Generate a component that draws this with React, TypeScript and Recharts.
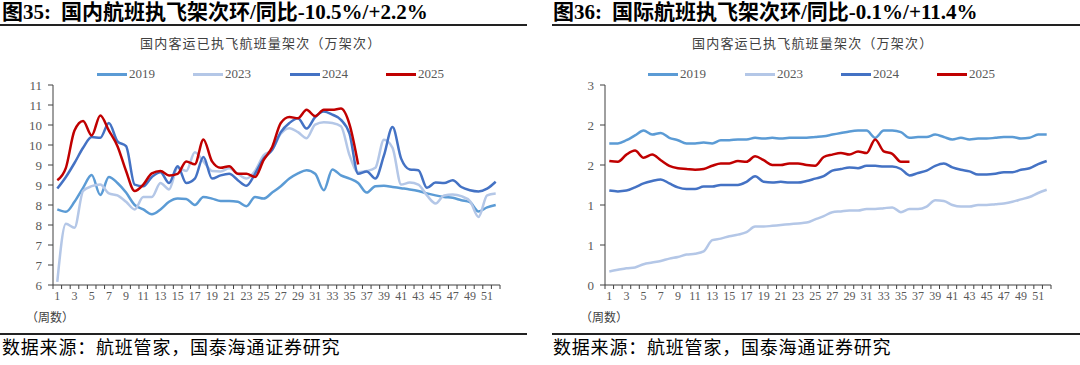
import React from "react";
import { LineChart, Line, XAxis, YAxis, Legend } from "recharts";

const WEEKS = [
  1, 2, 3, 4, 5, 6, 7, 8, 9, 10, 11, 12, 13, 14, 15, 16, 17, 18, 19, 20, 21, 22, 23, 24, 25, 26,
  27, 28, 29, 30, 31, 32, 33, 34, 35, 36, 37, 38, 39, 40, 41, 42, 43, 44, 45, 46, 47, 48, 49, 50, 51, 52,
];
const YEARS = ["2019", "2023", "2024", "2025"];

// 国内 (万架次)
const DOM_2019 = [
  7.89, 7.83, 8.08, 8.43, 8.75, 8.25, 8.7, 8.55, 8.31, 8.0, 7.89, 7.77, 7.89, 8.08, 8.16, 8.15, 8.0, 8.2,
  8.16, 8.1, 8.1, 8.08, 7.97, 8.2, 8.16, 8.31, 8.47, 8.66, 8.79, 8.87, 8.78, 8.37, 8.89, 8.74, 8.66, 8.55,
  8.31, 8.47, 8.48, 8.45, 8.42, 8.39, 8.35, 8.29, 8.24, 8.2, 8.18, 8.12, 8.07, 7.84, 7.94, 8.0,
];
const DOM_2023 = [
  6.08, 7.53, 7.43, 8.35, 8.47, 8.51, 8.29, 8.24, 8.08, 7.89, 8.2, 8.2, 8.55, 8.39, 8.93, 8.85, 9.32, 9.09,
  8.85, 8.84, 8.92, 8.78, 8.66, 8.85, 9.24, 9.38, 9.78, 9.92, 9.82, 9.67, 10.01, 10.07, 10.05, 9.97, 9.24, 8.82,
  8.85, 8.93, 9.63, 9.43, 8.51, 8.56, 8.51, 8.24, 8.04, 8.24, 8.26, 8.22, 8.1, 7.7, 8.24, 8.29,
];
const DOM_2024 = [
  8.41, 8.7, 9.05, 9.43, 9.7, 9.68, 10.05, 9.59, 9.47, 8.51, 8.47, 8.7, 8.82, 8.55, 8.97, 8.55, 8.66, 9.2,
  8.66, 8.74, 8.78, 8.62, 8.48, 8.78, 9.16, 9.38, 9.82, 10.05, 10.17, 9.91, 10.2, 10.34, 10.26, 10.13, 9.78, 8.78,
  8.84, 8.66, 9.24, 9.95, 9.16, 8.89, 8.87, 8.43, 8.56, 8.55, 8.62, 8.45, 8.37, 8.34, 8.41, 8.58,
];
const DOM_2025 = [
  8.62, 8.93, 9.86, 10.1, 9.74, 10.24, 9.86, 9.47, 8.85, 8.35, 8.51, 8.79, 8.85, 8.74, 8.78, 9.09, 9.02, 9.64,
  9.09, 8.93, 8.97, 8.78, 8.78, 8.7, 9.12, 9.45, 10.05, 10.2, 10.17, 10.38, 10.22, 10.38, 10.38, 10.41, 10.01, 9.01,
];

// 国际 (万架次)
const INT_2019 = [
  1.77, 1.77, 1.81, 1.87, 1.93, 1.88, 1.9, 1.84, 1.81, 1.77, 1.77, 1.78, 1.77, 1.81, 1.81, 1.82, 1.82, 1.84,
  1.83, 1.84, 1.83, 1.84, 1.84, 1.84, 1.85, 1.86, 1.88, 1.9, 1.92, 1.93, 1.93, 1.84, 1.93, 1.93, 1.91, 1.84,
  1.85, 1.85, 1.88, 1.85, 1.82, 1.84, 1.82, 1.83, 1.83, 1.84, 1.85, 1.85, 1.83, 1.84, 1.88, 1.88,
];
const INT_2023 = [
  0.17, 0.19, 0.21, 0.22, 0.26, 0.28, 0.3, 0.33, 0.35, 0.38, 0.39, 0.42, 0.56, 0.58, 0.61, 0.63, 0.66, 0.73,
  0.73, 0.74, 0.75, 0.76, 0.77, 0.78, 0.82, 0.86, 0.91, 0.92, 0.93, 0.93, 0.95, 0.95, 0.96, 0.97, 0.91, 0.95,
  0.95, 0.98, 1.06, 1.05, 1.0, 0.98, 0.98, 1.0, 1.0, 1.01, 1.02, 1.04, 1.07, 1.1, 1.15, 1.19,
];
const INT_2024 = [
  1.18, 1.17, 1.18, 1.22, 1.27, 1.3, 1.32, 1.27, 1.22, 1.2, 1.2, 1.23, 1.23, 1.25, 1.25, 1.25, 1.29, 1.36,
  1.29, 1.28, 1.29, 1.28, 1.28, 1.3, 1.33, 1.36, 1.43, 1.45, 1.47, 1.46, 1.49, 1.49, 1.48, 1.48, 1.45, 1.37,
  1.4, 1.43, 1.49, 1.52, 1.47, 1.44, 1.42, 1.38, 1.38, 1.39, 1.41, 1.41, 1.44, 1.46, 1.51, 1.55,
];
const INT_2025 = [
  1.55, 1.54, 1.63, 1.68, 1.59, 1.63, 1.56, 1.49, 1.46, 1.45, 1.44, 1.45, 1.49, 1.52, 1.52, 1.55, 1.54, 1.61,
  1.56, 1.5, 1.5, 1.52, 1.52, 1.5, 1.49, 1.6, 1.63, 1.65, 1.63, 1.67, 1.65, 1.82, 1.67, 1.64, 1.54, 1.54,
];

const DOM_TICKS = [6, 6.5, 7, 7.5, 8, 8.5, 9, 9.5, 10, 10.5, 11];
const INT_TICKS = [0, 0.5, 1, 1.5, 2, 2.5];
const X_TICKS = [
  0.5, 1.5, 2.5, 3.5, 4.5, 5.5, 6.5, 7.5, 8.5, 9.5, 10.5, 11.5, 12.5, 13.5, 14.5, 15.5, 16.5, 17.5, 18.5,
  19.5, 20.5, 21.5, 22.5, 23.5, 24.5, 25.5, 26.5, 27.5, 28.5, 29.5, 30.5, 31.5, 32.5, 33.5, 34.5, 35.5, 36.5,
  37.5, 38.5, 39.5, 40.5, 41.5, 42.5, 43.5, 44.5, 45.5, 46.5, 47.5, 48.5, 49.5, 50.5, 51.5, 52.5,
];

const COLORS = ["#5B9BD5", "#B4C7E7", "#4472C4", "#C00000"];
const SERIF = "'Liberation Serif', 'Times New Roman', 'Noto Sans CJK SC', serif";
const CJK = "'Liberation Serif', 'Noto Sans CJK SC', serif";

const buildData = (series: (number | undefined)[][]) =>
  WEEKS.map((w, i) => ({
    week: w,
    y2019: series[0][i] ?? null,
    y2023: series[1][i] ?? null,
    y2024: series[2][i] ?? null,
    y2025: series[3][i] ?? null,
  }));

const PANEL_W = 540;
const CHART_H = 310;

interface PanelProps {
  left: number;
  figNo: string;
  title: string;
  titleX: number;
  lineX: number;
  lineW: number;
  subtitleX: number;
  data: any[];
  domain: [number, number];
  ticks: number[];
  plotLeft: number;
  plotRight: number;
  legendX: number[];
  weekLabelX: number;
}

function Panel(p: PanelProps) {
  const plotW = p.plotRight - p.plotLeft;
  const band = plotW / 52;

  // tick lines sit on week boundaries, labels on odd weeks
  const renderTick = (props: any) => {
    const { x, y, payload } = props;
    const wk = payload.value + 0.5;
    if (wk > 52 || wk % 2 === 0) return <g />;
    return (
      <text x={x + band / 2} y={y + 9} textAnchor="middle" fontSize={12} fill="#595959" fontFamily={SERIF}>
        {wk}
      </text>
    );
  };

  const renderLegend = (props: any) => {
    const items = props.payload || [];
    return (
      <div style={{ position: "relative", height: 16, width: PANEL_W }}>
        {items.map((it: any, i: number) => (
          <div
            key={it.value}
            style={{ position: "absolute", left: p.legendX[i], top: 0, display: "flex", alignItems: "center" }}
          >
            <div style={{ width: 30, height: 3, background: it.color }} />
            <span style={{ marginLeft: 2, fontSize: 13, color: "#595959", fontFamily: SERIF, lineHeight: "16px" }}>
              {it.value}
            </span>
          </div>
        ))}
      </div>
    );
  };

  return (
    <div style={{ position: "absolute", left: p.left, top: 0, width: PANEL_W, height: 365 }}>
      <div
        style={{
          position: "absolute",
          left: p.titleX,
          top: 0,
          height: 24,
          lineHeight: "24px",
          fontSize: 21,
          fontWeight: "bold",
          fontFamily: CJK,
          color: "#000",
          whiteSpace: "nowrap",
        }}
      >
        <span>{p.figNo}</span>
        <span style={{ marginLeft: 10 }}>{p.title}</span>
      </div>
      <div style={{ position: "absolute", left: p.lineX, top: 24, width: p.lineW, height: 2, background: "#222" }} />
      <div
        style={{
          position: "absolute",
          left: p.subtitleX,
          top: 33,
          fontSize: 13,
          color: "#404040",
          fontFamily: CJK,
          whiteSpace: "nowrap",
          letterSpacing: 1.2,
        }}
      >
        国内客运已执飞航班量架次（万架次）
      </div>

      <div style={{ position: "absolute", left: 0, top: 0 }}>
        <LineChart
          width={PANEL_W}
          height={CHART_H}
          data={p.data}
          margin={{ top: 69, right: PANEL_W - p.plotRight, left: 0, bottom: 0 }}
        >
          <XAxis
            dataKey="week"
            type="number"
            domain={[0.5, 52.5]}
            ticks={X_TICKS}
            interval={0}
            height={25}
            stroke="#404040"
            tickSize={4}
            tick={renderTick}
          />
          <YAxis
            domain={p.domain}
            ticks={p.ticks}
            interval={0}
            width={p.plotLeft}
            stroke="#404040"
            tickSize={5}
            tickMargin={6}
            tickFormatter={(v: number) => String(Math.round(v))}
            tick={{ fontSize: 13, fill: "#595959", fontFamily: SERIF }}
            allowDataOverflow
          />
          <Legend verticalAlign="top" wrapperStyle={{ top: 66, left: 0 }} content={renderLegend} />
          {YEARS.map((yr, i) => (
            <Line
              key={yr}
              name={yr}
              dataKey={"y" + yr}
              type="monotone"
              stroke={COLORS[i]}
              strokeWidth={2.5}
              dot={false}
              connectNulls={false}
              isAnimationActive={false}
            />
          ))}
        </LineChart>
      </div>

      <div
        style={{
          position: "absolute",
          left: p.weekLabelX,
          top: 308,
          fontSize: 12,
          color: "#404040",
          fontFamily: CJK,
        }}
      >
        （周数）
      </div>
      <div style={{ position: "absolute", left: p.lineX, top: 333, width: p.lineW, height: 2, background: "#222" }} />
      <div
        style={{
          position: "absolute",
          left: p.titleX,
          top: 337,
          fontSize: 18,
          lineHeight: "22px",
          color: "#000",
          fontFamily: CJK,
          whiteSpace: "nowrap",
          letterSpacing: 0.8,
        }}
      >
        数据来源：航班管家，国泰海通证券研究
      </div>
    </div>
  );
}

export default function App() {
  const domData = buildData([DOM_2019, DOM_2023, DOM_2024, DOM_2025]);
  const intData = buildData([INT_2019, INT_2023, INT_2024, INT_2025]);

  return (
    <div style={{ position: "fixed", left: 0, top: 0, width: 1080, height: 365, background: "#fff", overflow: "hidden" }}>
      <Panel
        left={0}
        figNo="图35:"
        title="国内航班执飞架次环/同比-10.5%/+2.2%"
        titleX={2}
        lineX={0}
        lineW={527}
        subtitleX={140}
        data={domData}
        domain={[6, 11]}
        ticks={DOM_TICKS}
        plotLeft={53}
        plotRight={500}
        legendX={[97, 193, 290, 386]}
        weekLabelX={26}
      />
      <Panel
        left={540}
        figNo="图36:"
        title="国际航班执飞架次环/同比-0.1%/+11.4%"
        titleX={13}
        lineX={12}
        lineW={528}
        subtitleX={152}
        data={intData}
        domain={[0, 2.5]}
        ticks={INT_TICKS}
        plotLeft={65}
        plotRight={511}
        legendX={[108, 205, 301, 397]}
        weekLabelX={40}
      />
    </div>
  );
}
